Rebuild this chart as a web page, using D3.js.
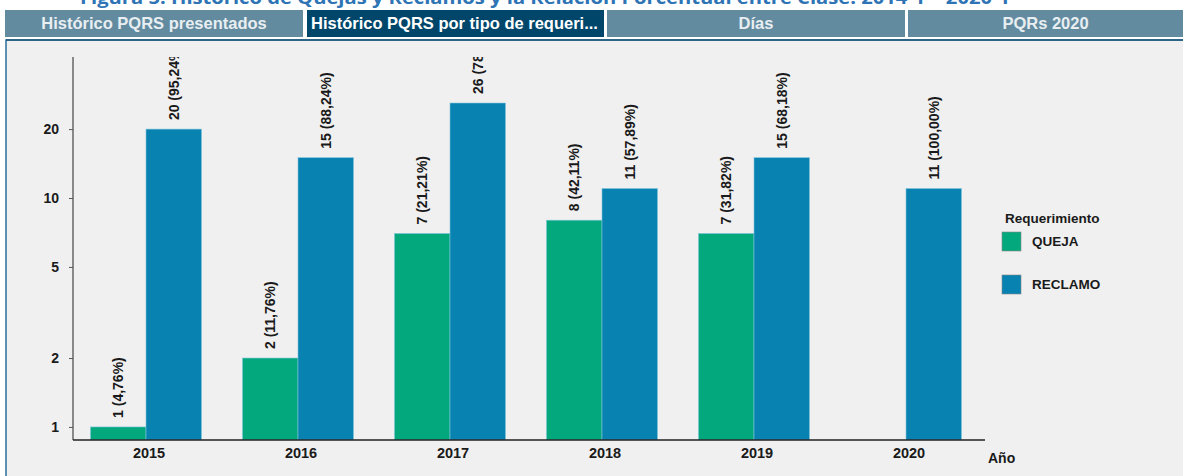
<!DOCTYPE html>
<html><head><meta charset="utf-8">
<script src="https://cdn.jsdelivr.net/npm/d3@7"></script>
<style>
body{margin:0;background:#fff;}
svg{display:block;font-family:"Liberation Sans",Arial,sans-serif;}
</style></head>
<body>
<svg id="c" width="1183" height="476"></svg>
<script>
const years = ["2015","2016","2017","2018","2019","2020"];
const queja = [1, 2, 7, 8, 7, null];
const reclamo = [20, 15, 26, 11, 15, 11];
const quejaPct = ["4,76%","11,76%","21,21%","42,11%","31,82%", null];
const reclamoPct = ["95,24%","88,24%","78,79%","57,89%","68,18%","100,00%"];
const series = ["QUEJA","RECLAMO"];
const colors = ["#03a87c","#0882b1"];
const yTicks = [1, 2, 5, 10, 20];
const tabs = ["Histórico PQRS presentados","Histórico PQRS por tipo de requeri...","Días","PQRs 2020"];
const titleText = "Figura 5. Histórico de Quejas y Reclamos y la Relación Porcentual entre Clase. 2014-1 – 2020-1";

(function(){
const svg = d3.select("#c");

// title (cut at top)
svg.append("text").attr("x",80).attr("y",4).attr("textLength",930).attr("lengthAdjust","spacingAndGlyphs")
  .attr("font-family","'Open Sans',sans-serif").attr("font-weight","bold").attr("font-size",17)
  .attr("fill","#2e74b5").text(titleText);

// tabs
const tabX = [[5,303],[307,604],[607,905],[908,1183]];
tabs.forEach((t,i)=>{
  const [a,b] = tabX[i];
  svg.append("rect").attr("x",a).attr("y",10).attr("width",b-a).attr("height",27)
    .attr("fill", i===1 ? "#00466b" : "#628ba0");
  svg.append("text").attr("x", i===1 ? a+4 : (a+b)/2).attr("y",29)
    .attr("text-anchor", i===1 ? "start" : "middle")
    .attr("font-weight","bold").attr("font-size",16.5)
    .attr("fill", i===1 ? "#ffffff" : "#e8eef1").text(t);
});

// panel
svg.append("rect").attr("x",6).attr("y",40).attr("width",1183).attr("height",440)
  .attr("fill","#f0f0f0").attr("stroke","#2a6f9c").attr("stroke-width",1.5);
svg.append("line").attr("x1",6).attr("x2",1183).attr("y1",40).attr("y2",40).attr("stroke","#1d5678").attr("stroke-width",1.5);

// scales
const plotTop = 57, plotBottom = 440;
const x0 = d3.scaleBand().domain(years).range([70, 982]).paddingInner(0.27).paddingOuter(0.135);
const x1 = d3.scaleBand().domain(series).range([0, x0.bandwidth()]);
const y = d3.scaleLog().domain([0.877, 41.3]).range([plotBottom, plotTop]);

svg.append("clipPath").attr("id","plot").append("rect").attr("x",60).attr("y",plotTop).attr("width",940).attr("height",plotBottom-plotTop);

const g = svg.append("g").attr("clip-path","url(#plot)");
const rows = years.map((yr,i)=>({yr, vals:[
  {s:"QUEJA", v:queja[i], p:quejaPct[i], c:colors[0]},
  {s:"RECLAMO", v:reclamo[i], p:reclamoPct[i], c:colors[1]}].filter(d=>d.v!=null)}));

const grp = g.selectAll("g.yr").data(rows).join("g").attr("transform",d=>`translate(${x0(d.yr)},0)`);
grp.selectAll("rect").data(d=>d.vals).join("rect")
  .attr("x",d=>x1(d.s)).attr("width",x1.bandwidth())
  .attr("y",d=>y(d.v)).attr("height",d=>plotBottom-y(d.v))
  .attr("fill",d=>d.c).attr("stroke","#7fc4dc").attr("stroke-width",0.6);
grp.selectAll("text").data(d=>d.vals).join("text")
  .attr("transform",d=>`translate(${x1(d.s)+x1.bandwidth()/2+5},${y(d.v)-9}) rotate(-90)`)
  .attr("font-weight","bold").attr("font-size",14).attr("fill","#1a1a1a")
  .text(d=>`${d.v} (${d.p})`);

// y axis
const ya = svg.append("g").attr("transform",`translate(73,0)`)
  .call(d3.axisLeft(y).tickValues(yTicks).tickFormat(d3.format("d")).tickSize(4).tickSizeOuter(0));
ya.select(".domain").attr("stroke","#222").attr("d",`M0,${plotTop}V${plotBottom}`);
ya.selectAll(".tick line").attr("stroke","#555");
ya.selectAll(".tick text").attr("font-family","'Liberation Sans',Arial,sans-serif").attr("font-weight","bold").attr("font-size",14).attr("fill","#1a1a1a").attr("x",-14);

// x axis
const xa = svg.append("g").attr("transform",`translate(3,${plotBottom})`)
  .call(d3.axisBottom(x0).tickSize(0));
xa.select(".domain").remove();
xa.selectAll(".tick text").attr("font-family","'Liberation Sans',Arial,sans-serif").attr("font-weight","bold").attr("font-size",14.5).attr("fill","#1a1a1a").attr("dy","1.0em");
svg.append("line").attr("x1",73).attr("x2",985).attr("y1",plotBottom).attr("y2",plotBottom).attr("stroke","#222").attr("stroke-width",1.5);
svg.append("text").attr("x",988).attr("y",463).attr("font-weight","bold").attr("font-size",14).attr("fill","#1a1a1a").text("Año");

// legend
svg.append("text").attr("x",1005).attr("y",223).attr("font-weight","bold").attr("font-size",13.5).attr("fill","#1a1a1a").text("Requerimiento");
series.forEach((s,i)=>{
  const yy = 232 + i*43;
  svg.append("rect").attr("x",1002).attr("y",yy).attr("width",19).attr("height",19).attr("fill",colors[i]).attr("stroke","#888").attr("stroke-width",0.6);
  svg.append("text").attr("x",1032).attr("y",yy+14).attr("font-weight","bold").attr("font-size",13.5).attr("fill","#1a1a1a").text(s);
});
})();
</script>
</body></html>
